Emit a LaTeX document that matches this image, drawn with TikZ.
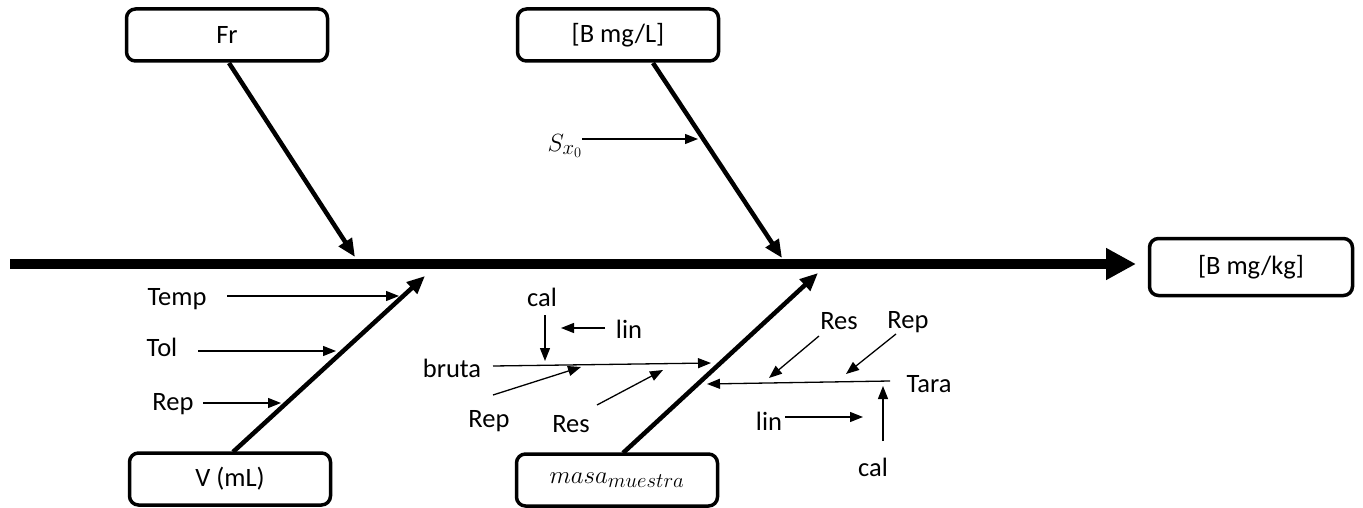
\documentclass[tikz,border=0pt]{standalone}
\usepackage{fontspec}
\setmainfont{Carlito}
\usetikzlibrary{arrows.meta}
\begin{document}
\begin{tikzpicture}[x=1pt,y=-1pt,
 box/.style={draw,line width=3.5pt,rounded corners=9pt,minimum width=201pt,minimum height=52pt,inner sep=0pt},
 lbl/.style={inner sep=0pt},
 mth/.style={inner sep=0pt,font=\fontsize{30}{34}\selectfont},
 bone/.style={line width=4.5pt,-{Triangle[length=18pt,width=15pt]}},
 twig/.style={line width=1.3pt,-{Triangle[length=13pt,width=10pt]}},
 spine/.style={line width=10pt,-{Triangle[length=30pt,width=30pt]}},
 font=\fontsize{26.5}{30}\selectfont]
\useasboundingbox (0,0) rectangle (1363,508);
% boxes
\node[box] (fr) at (227,35) {Fr};
\node[box] (bl) at (618,35) {[B mg/L]};
\node[box,minimum width=203pt,minimum height=57pt] (bkg) at (1251,267) {[B mg/kg]};
\node[box] (v) at (230,479) {V (mL)};
\node[box,font=\fontsize{30}{34}\selectfont] (m) at (617,480) {$masa_{muestra}$};
% spine
\coordinate (s0) at (10,264);
\coordinate (s1) at (1136,264);
\draw[spine] (s0) -- (s1);
% bones
\coordinate (fr0) at (229,63);  \coordinate (fr1) at (355,257);
\coordinate (bl0) at (653,63);  \coordinate (bl1) at (782,258);
\coordinate (v0) at (233,452);  \coordinate (v1) at (425,276);
\coordinate (m0) at (623,453);  \coordinate (m1) at (818,273);
\draw[bone] (fr0) -- (fr1);
\draw[bone] (bl0) -- (bl1);
\draw[bone] (v0) -- (v1);
\draw[bone] (m0) -- (m1);
% S_x0
\node[mth] (sx) at (565,146) {$S_{x_0}$};
\coordinate (sx0) at (582,139); \coordinate (sx1) at (698,139);
\draw[twig] (sx0) -- (sx1);
% V bone causes
\node[lbl] (temp) at (177,299) {Temp};
\coordinate (temp0) at (227,296); \coordinate (temp1) at (399,296);
\draw[twig] (temp0) -- (temp1);
\node[lbl] (tol) at (162,347) {Tol};
\coordinate (tol0) at (198,351); \coordinate (tol1) at (336,351);
\draw[twig] (tol0) -- (tol1);
\node[lbl] (repv) at (173,404) {Rep};
\coordinate (repv0) at (203,403); \coordinate (repv1) at (281,403);
\draw[twig] (repv0) -- (repv1);
% bruta
\node[lbl] (bruta) at (452,368) {bruta};
\coordinate (br0) at (493,366); \coordinate (br1) at (711,363);
\draw[twig] (br0) -- (br1);
\node[lbl] (cal1) at (542,297) {cal};
\coordinate (cal10) at (545,315); \coordinate (cal11) at (545,361);
\draw[twig] (cal10) -- (cal11);
\node[lbl] (lin1) at (629,329) {lin};
\coordinate (lin10) at (605,328); \coordinate (lin11) at (561,328);
\draw[twig] (lin10) -- (lin11);
\node[lbl] (rep1) at (489,421) {Rep};
\coordinate (rep10) at (493,395); \coordinate (rep11) at (581,367);
\draw[twig] (rep10) -- (rep11);
\node[lbl] (res1) at (571,424) {Res};
\coordinate (res10) at (597,405); \coordinate (res11) at (663,370);
\draw[twig] (res10) -- (res11);
% Tara
\node[lbl] (tara) at (929,384) {Tara};
\coordinate (ta0) at (890,381); \coordinate (ta1) at (707,384);
\draw[twig] (ta0) -- (ta1);
\node[lbl] (res2) at (839,321) {Res};
\coordinate (res20) at (819,336); \coordinate (res21) at (769,378);
\draw[twig] (res20) -- (res21);
\node[lbl] (rep2) at (908,322) {Rep};
\coordinate (rep20) at (896,334); \coordinate (rep21) at (846,374);
\draw[twig] (rep20) -- (rep21);
\node[lbl] (lin2) at (769,421) {lin};
\coordinate (lin20) at (785,417); \coordinate (lin21) at (863,417);
\draw[twig] (lin20) -- (lin21);
\node[lbl] (cal2) at (873,467) {cal};
\coordinate (cal20) at (883,441); \coordinate (cal21) at (883,386);
\draw[twig] (cal20) -- (cal21);
\end{tikzpicture}
\end{document}
